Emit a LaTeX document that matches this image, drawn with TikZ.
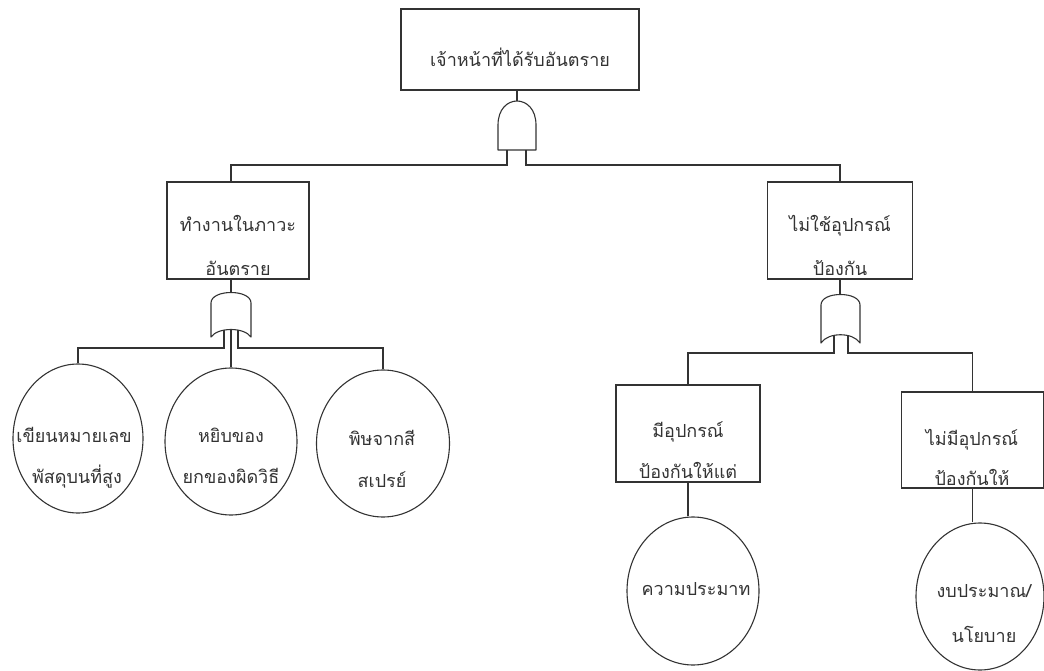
\documentclass[tikz,border=0pt]{standalone}
\usepackage{fontspec}
\newfontfamily\thaifont[Script=Thai]{Loma}
\usetikzlibrary{shapes.geometric}

\begin{document}
\begin{tikzpicture}[x=1pt,y=-1pt,
  line/.style={draw=black!80, line width=1.1pt},
  box/.style={line, rectangle, inner sep=0pt},
  evt/.style={line, ellipse, inner sep=0pt},
  gate/.style={line, fill=white, line join=round},
  txt/.style={anchor=base, inner sep=0pt, text=black!80,
    font=\thaifont\fontsize{18}{22}\selectfont}]
\useasboundingbox (0,0) rectangle (1044,671);

% ---- event boxes ----
\node[box, minimum width=238, minimum height=81] (T) at (520,49.5) {};
\node[box, minimum width=142, minimum height=97] (L) at (238,230.5) {};
\node[box, minimum width=145, minimum height=97] (R) at (840,230.5) {};
\node[box, minimum width=144, minimum height=97] (A) at (688,433.5) {};
\node[box, minimum width=142, minimum height=96] (B) at (972.5,440) {};

% ---- basic events ----
\node[evt, minimum width=130, minimum height=149] (c1) at (78,438.5) {};
\node[evt, minimum width=132, minimum height=147] (c2) at (231,441.5) {};
\node[evt, minimum width=133, minimum height=147] (c3) at (383,443.5) {};
\node[evt, minimum width=132, minimum height=148] (cA) at (693,591) {};
\node[evt, minimum width=128, minimum height=147] (cB) at (980,596.5) {};

% ---- gate connection points ----
\coordinate (g0t) at (517,110);
\coordinate (g0l) at (507,140);
\coordinate (g0r) at (526,140);
\coordinate (b0) at (0,165);
\coordinate (g1t) at (231,300);
\coordinate (g1l) at (224,325);
\coordinate (g1m) at (231,320);
\coordinate (g1r) at (238,325);
\coordinate (b1) at (0,348);
\coordinate (g2t) at (840,300);
\coordinate (g2l) at (834,330);
\coordinate (g2r) at (848,330);
\coordinate (b2) at (0,353);

% ---- connectors ----
\draw[line] ([xshift=-3]T.south) -- (g0t);
\draw[line] (g0l) -- (g0l |- b0) -| ([xshift=-7]L.north);
\draw[line] (g0r) -- (g0r |- b0) -| (R.north);

\draw[line] ([xshift=-7]L.south) -- (g1t);
\draw[line] (g1l) -- (g1l |- b1) -| (c1.north);
\draw[line] (g1m) -- (c2.north);
\draw[line] (g1r) -- (g1r |- b1) -| (c3.north);

\draw[line] (R.south) -- (g2t);
\draw[line] (g2l) -- (g2l |- b2) -| (A.north);
\draw[line] (g2r) -- (g2r |- b2) -| (B.north);

\draw[line] (A.south) -- (A.south |- cA.north);
\draw[line] (B.south) -- (B.south |- cB.north);

% ---- AND gate ----
\draw[gate] (498,150) -- (498,125) .. controls (498,93) and (536,93) .. (536,125) -- (536,150) -- cycle;
% ---- OR gates ----
\draw[gate] (211,303) .. controls (211,289) and (251,289) .. (251,303) -- (251,337)
  .. controls (244,327) and (218,327) .. (211,337) -- cycle;
\draw[gate] (821,305) .. controls (821,291) and (860,291) .. (860,305) -- (860,343)
  .. controls (853,332) and (828,332) .. (821,343) -- cycle;

% ---- texts ----
\node[txt] (tT) at (520,67) {เจ้าหน้าที่ได้รับอันตราย};
\node[txt] (tL1) at (238,232) {ทำงานในภาวะ};
\node[txt] (tL2) at (238,275) {อันตราย};
\node[txt] (tR1) at (840,232) {ไม่ใช้อุปกรณ์};
\node[txt] (tR2) at (840,275) {ป้องกัน};
\node[txt] (t11) at (74,442) {เขียนหมายเลข};
\node[txt] (t12) at (77,483) {พัสดุบนที่สูง};
\node[txt] (t21) at (231,442) {หยิบของ};
\node[txt] (t22) at (231,483) {ยกของผิดวิธี};
\node[txt] (t31) at (382,445) {พิษจากสี};
\node[txt] (t32) at (382,487) {สเปรย์};
\node[txt] (tA1) at (688,437) {มีอุปกรณ์};
\node[txt] (tA2) at (688,478) {ป้องกันให้แต่};
\node[txt] (tB1) at (972,445) {ไม่มีอุปกรณ์};
\node[txt] (tB2) at (972,485) {ป้องกันให้};
\node[txt] (tcA) at (696,595) {ความประมาท};
\node[txt] (tcB1) at (984,597) {งบประมาณ/};
\node[txt] (tcB2) at (984,642) {นโยบาย};
\end{tikzpicture}
\end{document}
